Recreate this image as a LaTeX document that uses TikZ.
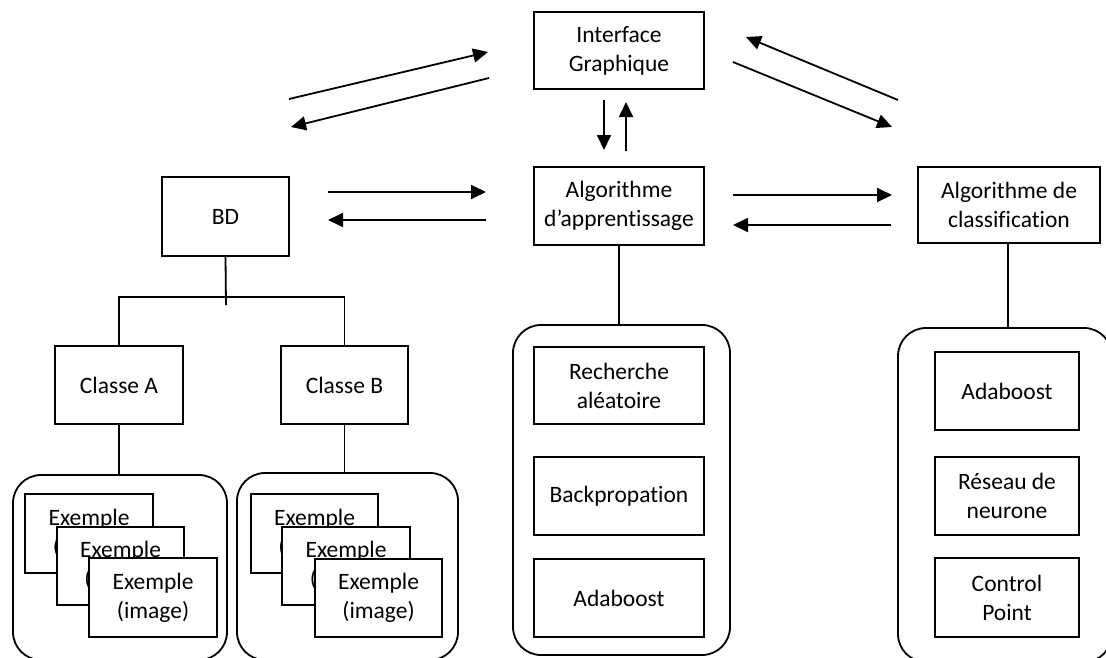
\documentclass[tikz,border=0pt]{standalone}
\usepackage{fontspec}
\setmainfont{Carlito}[Ligatures=NoCommon]
\usetikzlibrary{arrows.meta}
\tikzset{
  box/.style={draw, line width=1.8pt, fill=white, align=center, inner sep=0pt,
    font=\fontsize{23.5}{29}\selectfont},
  group/.style={draw, line width=1.8pt, rounded corners=28pt, inner sep=0pt},
  link/.style={line width=1.8pt},
  arr/.style={line width=1.8pt, -{Triangle[length=15pt,width=14pt]}},
}
\begin{document}
\begin{tikzpicture}[x=1pt,y=-1pt]
\useasboundingbox (0,0) rectangle (1106,657);
\clip (0,0) rectangle (1106,657);
% top boxes
\node[box, minimum width=170pt, minimum height=77pt] (IG) at (619,50.5) {Interface\\Graphique};
\node[box, minimum width=170pt, minimum height=78pt] (AA) at (619,206) {Algorithme\\d’apprentissage};
\node[box, minimum width=182pt, minimum height=76pt] (AC) at (1009,205) {Algorithme de\\classification};
\node[box, minimum width=127pt, minimum height=79pt] (BD) at (225.5,216.5) {BD};
\node[box, minimum width=128pt, minimum height=78pt] (CA) at (119,385) {Classe A};
\node[box, minimum width=127pt, minimum height=78pt] (CB) at (344.5,385) {Classe B};
% groups
\node[group, minimum width=214pt, minimum height=185pt] (GA) at (120,567.5) {};
\node[group, minimum width=221pt, minimum height=187pt] (GB) at (347.5,566.5) {};
\node[group, minimum width=217pt, minimum height=330pt] (GM) at (621.5,490) {};
\node[group, minimum width=214pt, minimum height=334pt] (GR) at (1005,495) {};
% examples
\node[box, minimum width=128pt, minimum height=79pt] (EA1) at (89,533.5) {Exemple\\(image)};
\node[box, minimum width=127pt, minimum height=78pt] (EA2) at (120.5,566) {Exemple\\(image)};
\node[box, minimum width=128pt, minimum height=79pt] (EA3) at (153,597.5) {Exemple\\(image)};
\node[box, minimum width=127pt, minimum height=79pt] (EB1) at (314.5,533.5) {Exemple\\(image)};
\node[box, minimum width=128pt, minimum height=78pt] (EB2) at (346,566) {Exemple\\(image)};
\node[box, minimum width=127pt, minimum height=78pt] (EB3) at (378.5,598) {Exemple\\(image)};
% middle inner
\node[box, minimum width=170pt, minimum height=77pt] (RA) at (619,385.5) {Recherche\\aléatoire};
\node[box, minimum width=170pt, minimum height=78pt] (BP) at (619,496) {Backpropation};
\node[box, minimum width=170pt, minimum height=78pt] (AB1) at (619,598) {Adaboost};
% right inner
\node[box, minimum width=144pt, minimum height=78pt] (AB2) at (1007,391) {Adaboost};
\node[box, minimum width=144pt, minimum height=78pt] (RN) at (1007,496) {Réseau de\\neurone};
\node[box, minimum width=144pt, minimum height=79pt] (CP) at (1007,597.5) {Control\\Point};
% tree links
\coordinate (T) at (226,305);
\draw[link] (BD.south) -- (T);
\draw[link] (CA.north) -- ++(0,-48) -| (CB.north);
\draw[link] (CA.south) -- (CA.south |- GA.north);
\draw[link] (CB.south) -- (CB.south |- GB.north);
\draw[link] (AA.south) -- (AA.south |- GM.north);
\draw[link] ([xshift=-1pt]AC.south) -- ([xshift=-1pt]AC.south |- GR.north);
% arrows
\coordinate (a1s) at (289,99);  \coordinate (a1e) at (488,52);
\coordinate (a2s) at (489,78);  \coordinate (a2e) at (291,127);
\coordinate (a3s) at (898,100); \coordinate (a3e) at (746,37);
\coordinate (a4s) at (733,62);  \coordinate (a4e) at (892,127);
\coordinate (dS) at (604,100);  \coordinate (dE) at (604,150);
\coordinate (uS) at (626,151);  \coordinate (uE) at (626,102);
\coordinate (b1s) at (328,192); \coordinate (b1e) at (486,192);
\coordinate (b2s) at (486,220); \coordinate (b2e) at (328,220);
\coordinate (c1s) at (733,195); \coordinate (c1e) at (892,195);
\coordinate (c2s) at (891,225); \coordinate (c2e) at (733,225);
\draw[arr] (a1s) -- (a1e);
\draw[arr] (a2s) -- (a2e);
\draw[arr] (a3s) -- (a3e);
\draw[arr] (a4s) -- (a4e);
\draw[arr] (dS) -- (dE);
\draw[arr] (uS) -- (uE);
\draw[arr] (b1s) -- (b1e);
\draw[arr] (b2s) -- (b2e);
\draw[arr] (c1s) -- (c1e);
\draw[arr] (c2s) -- (c2e);
\end{tikzpicture}
\end{document}
